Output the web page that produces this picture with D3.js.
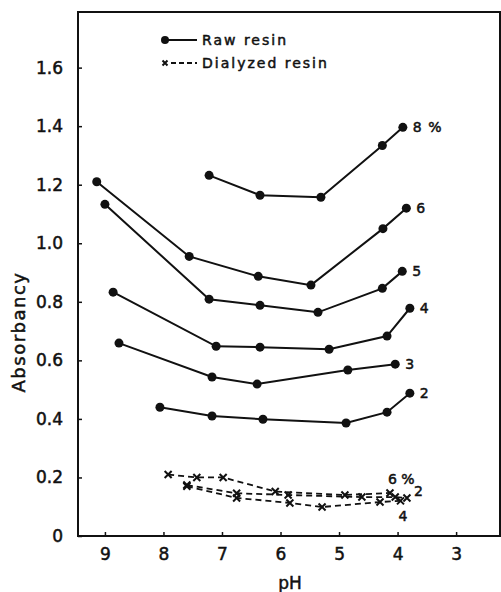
<!DOCTYPE html>
<html>
<head>
<meta charset="utf-8">
<script src="https://cdn.jsdelivr.net/npm/d3@7"></script>
<style>
  body { margin: 0; background: #fff; }
  text { font-family: "DejaVu Sans", sans-serif; fill: #111; stroke: #111; stroke-width: 0.5px; }
</style>
</head>
<body>
<svg id="chart" width="501" height="592"></svg>
<script>
// raw resin series: [pH, absorbancy]
const raw8 = [[7.22, 1.232], [6.35, 1.164], [5.31, 1.157], [4.26, 1.334], [3.91, 1.396]];
const raw6 = [[9.14, 1.21], [7.56, 0.955], [6.38, 0.887], [5.48, 0.857], [4.25, 1.05], [3.85, 1.12]];
const raw5 = [[9.0, 1.133], [7.22, 0.809], [6.35, 0.788], [5.36, 0.764], [4.26, 0.846], [3.92, 0.904]];
const raw4 = [[8.86, 0.833], [7.10, 0.648], [6.35, 0.645], [5.17, 0.638], [4.18, 0.683], [3.79, 0.778]];
const raw3 = [[8.76, 0.659], [7.17, 0.543], [6.40, 0.519], [4.85, 0.567], [4.04, 0.587]];
const raw2 = [[8.06, 0.44], [7.17, 0.41], [6.30, 0.399], [4.88, 0.386], [4.18, 0.423], [3.79, 0.488]];
const rawLabels = ["8 %", "6", "5", "4", "3", "2"];

// dialyzed resin series
const dia6 = [[7.92, 0.21], [7.43, 0.20], [6.98, 0.20], [6.09, 0.152], [4.90, 0.14], [4.13, 0.147]];
const dia2 = [[7.6, 0.174], [6.75, 0.146], [5.87, 0.14], [4.61, 0.133], [4.04, 0.133], [3.84, 0.13]];
const dia4 = [[7.6, 0.17], [6.75, 0.13], [5.84, 0.113], [5.29, 0.099], [4.30, 0.116], [3.95, 0.12]];
const diaLabels = ["6 %", "2", "4"];

const xTicks = [9, 8, 7, 6, 5, 4, 3];
const yTicks = [0, 0.2, 0.4, 0.6, 0.8, 1.0, 1.2, 1.4, 1.6];

const plotL = 78, plotR = 500, plotT = 12, plotB = 536;

const svg = d3.select("#chart");

const x = d3.scaleLinear().domain([9.46, 2.25]).range([plotL, plotR]);
const y = d3.scaleLinear().domain([0, 1.79]).range([plotB, plotT]);

// frame
svg.append("rect")
    .attr("x", plotL).attr("y", plotT)
    .attr("width", plotR - plotL).attr("height", plotB - plotT)
    .attr("fill", "none").attr("stroke", "#111").attr("stroke-width", 2);

// axes (ticks point inward)
const yAxis = svg.append("g")
    .attr("transform", `translate(${plotL},0)`)
    .call(d3.axisLeft(y).tickValues(yTicks).tickSize(-4).tickPadding(15)
        .tickFormat(d => d === 0 ? "0" : d3.format(".1f")(d)));
const xAxis = svg.append("g")
    .attr("transform", `translate(0,${plotB})`)
    .call(d3.axisBottom(x).tickValues(xTicks).tickSize(-4).tickPadding(12));

[xAxis, yAxis].forEach(g => {
    g.select(".domain").remove();
    g.selectAll(".tick line").attr("stroke", "#111").attr("stroke-width", 1.5);
    g.selectAll(".tick text")
        .style("font-family", "DejaVu Sans, sans-serif")
        .style("font-size", "17px")
        .attr("fill", "#111");
});

// axis titles
svg.append("text")
    .attr("x", 290).attr("y", 589)
    .attr("text-anchor", "middle")
    .style("font-size", "17px")
    .text("pH");

svg.append("text")
    .attr("transform", "translate(25,332) rotate(-90)")
    .attr("text-anchor", "middle")
    .style("font-size", "18px")
    .style("letter-spacing", "1.5px")
    .text("Absorbancy");

const line = d3.line().x(d => x(d[0])).y(d => y(d[1]));

// raw resin: solid lines + dots
const rawSeries = [raw8, raw6, raw5, raw4, raw3, raw2];
rawSeries.forEach((s, i) => {
    svg.append("path")
        .datum(s)
        .attr("d", line)
        .attr("fill", "none")
        .attr("stroke", "#111")
        .attr("stroke-width", 2);
    svg.selectAll(null)
        .data(s)
        .enter()
        .append("circle")
        .attr("cx", d => x(d[0]))
        .attr("cy", d => y(d[1]))
        .attr("r", 4.5)
        .attr("fill", "#111");
    const last = s[s.length - 1];
    svg.append("text")
        .attr("x", x(last[0]) + 10)
        .attr("y", y(last[1]) + 5)
        .style("font-size", "14px")
        .style("letter-spacing", "1px")
        .text(rawLabels[i]);
});

// cross marker
function cross(g, cx, cy, r) {
    g.append("path")
        .attr("d", `M${cx - r},${cy - r}L${cx + r},${cy + r}M${cx - r},${cy + r}L${cx + r},${cy - r}`)
        .attr("stroke", "#111")
        .attr("stroke-width", 2);
}

// dialyzed resin: dashed lines + crosses
const diaSeries = [dia6, dia2, dia4];
const diaOffsets = [[-2, -9], [7, -2], [-2, 20]];
diaSeries.forEach((s, i) => {
    svg.append("path")
        .datum(s)
        .attr("d", line)
        .attr("fill", "none")
        .attr("stroke", "#111")
        .attr("stroke-width", 1.8)
        .attr("stroke-dasharray", "6,4");
    s.forEach(d => cross(svg, x(d[0]), y(d[1]), 3.5));
    const last = s[s.length - 1];
    svg.append("text")
        .attr("x", x(last[0]) + diaOffsets[i][0])
        .attr("y", y(last[1]) + diaOffsets[i][1])
        .style("font-size", "14px")
        .text(diaLabels[i]);
});

// legend
const legend = svg.append("g");
legend.append("circle").attr("cx", 165).attr("cy", 40).attr("r", 4).attr("fill", "#111");
legend.append("line").attr("x1", 168).attr("x2", 197).attr("y1", 40).attr("y2", 40)
    .attr("stroke", "#111").attr("stroke-width", 2);
legend.append("text").attr("x", 202).attr("y", 45)
    .style("font-size", "14px").style("letter-spacing", "2px").text("Raw resin");
cross(legend, 165, 63, 2.5);
legend.append("line").attr("x1", 171).attr("x2", 197).attr("y1", 63).attr("y2", 63)
    .attr("stroke", "#111").attr("stroke-width", 1.8).attr("stroke-dasharray", "5,3");
legend.append("text").attr("x", 202).attr("y", 68)
    .style("font-size", "14px").style("letter-spacing", "2px").text("Dialyzed resin");
</script>
</body>
</html>
